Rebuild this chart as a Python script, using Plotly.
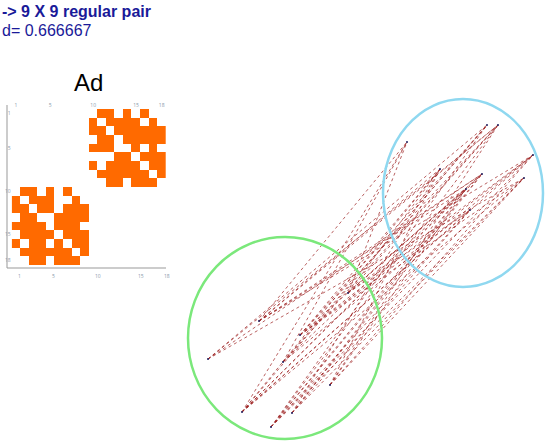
import plotly.graph_objects as go

# upper-right block of adjacency (rows 1-9, cols 10-18)
block = [
    [0,1,1,0,1,0,1,0,0],
    [1,0,1,1,1,1,0,1,0],
    [1,1,0,1,1,1,1,1,1],
    [0,1,1,0,1,1,1,1,1],
    [1,1,1,0,0,1,0,1,0],
    [0,0,0,1,1,0,1,1,1],
    [1,0,1,1,1,1,0,1,1],
    [0,1,1,1,1,1,1,0,1],
    [0,0,1,1,0,1,1,1,0],
]
n = 18
A = [[0]*n for _ in range(n)]
for i in range(9):
    for j in range(9):
        A[i][j+9] = block[i][j]
        A[j+9][i] = block[i][j]

left_x = [208, 259, 242, 271, 283, 292, 348, 300, 330]
left_y = [359, 321, 412, 427, 362, 413, 293, 335, 385]
right_x = [407, 487, 498, 440, 482, 533, 524, 466, 470]
right_y = [142, 125, 125, 169, 174, 155, 178, 189, 210]
tick_vals = [1, 5, 10, 15, 18]

W, H = 548, 444
fig = go.Figure()

ex, ey = [], []
for i in range(9):
    for j in range(9):
        if block[i][j]:
            ex += [left_x[i], right_x[j], None]
            ey += [left_y[i], right_y[j], None]
fig.add_trace(go.Scatter(x=ex, y=ey, mode="lines", line=dict(color="#9b1c1c", width=0.7, dash="dot"),
                         hoverinfo="skip", showlegend=False))
fig.add_trace(go.Scatter(x=left_x+right_x, y=left_y+right_y, mode="markers",
                         marker=dict(color="#202060", size=2), showlegend=False))

fig.add_shape(type="circle", xref="x", yref="y", x0=188, x1=382, y0=237, y1=439,
              line=dict(color="#7be87b", width=2.5))
fig.add_shape(type="circle", xref="x", yref="y", x0=383, x1=543, y0=99, y1=287,
              line=dict(color="#8fd8f0", width=2.5))

fig.add_trace(go.Heatmap(z=A, x=list(range(1, 19)), y=list(range(1, 19)), xaxis="x2", yaxis="y2",
                         colorscale=[[0, "white"], [1, "#ff6a00"]], showscale=False, hoverinfo="skip", xgap=0, ygap=0))

def px(v): return v / W
def py(v): return 1 - v / H

tickfont = dict(size=5, color="#8899aa")
fig.update_layout(
    width=W, height=H, margin=dict(l=0, r=0, t=0, b=0),
    paper_bgcolor="white", plot_bgcolor="rgba(0,0,0,0)",
    xaxis=dict(range=[0, W], visible=False, domain=[0, 1]),
    yaxis=dict(range=[H, 0], visible=False, domain=[0, 1]),
    xaxis2=dict(domain=[px(11.7), px(166)], range=[0.5, 18.5], anchor="y2", side="top",
                tickvals=tick_vals, tickfont=tickfont, showgrid=False, zeroline=False,
                ticks="", mirror=False),
    yaxis2=dict(domain=[py(265), py(109)], range=[18.5, 0.5], anchor="x2",
                tickvals=tick_vals, tickfont=tickfont, showgrid=False, zeroline=False, ticks=""),
    annotations=[
        dict(text="<b>-> 9 X 9 regular pair</b>", x=0, y=py(1), xref="paper", yref="paper",
             xanchor="left", yanchor="top", showarrow=False, font=dict(size=16, color="#1a1a99", family="Arial")),
        dict(text="d= 0.666667", x=0, y=py(20), xref="paper", yref="paper",
             xanchor="left", yanchor="top", showarrow=False, font=dict(size=16, color="#1a1a99", family="Arial")),
        dict(text="Ad", x=px(88), y=py(83), xref="paper", yref="paper", xanchor="center", yanchor="middle",
             showarrow=False, font=dict(size=24, color="black", family="Arial")),
    ] + [dict(text=str(v), x=px(11.7 + (v-0.5)*8.58), y=py(276), xref="paper", yref="paper",
              showarrow=False, font=tickfont) for v in tick_vals],
)
fig.add_shape(type="line", xref="paper", yref="paper", x0=px(7), x1=px(7), y0=py(268), y1=py(105),
              line=dict(color="#999", width=1))
fig.add_shape(type="line", xref="paper", yref="paper", x0=px(7), x1=px(166), y0=py(268), y1=py(268),
              line=dict(color="#999", width=1))
fig.write_html("out.html", config={"displayModeBar": False},
               post_script="document.body.style.margin='0';document.body.style.overflow='hidden';")
